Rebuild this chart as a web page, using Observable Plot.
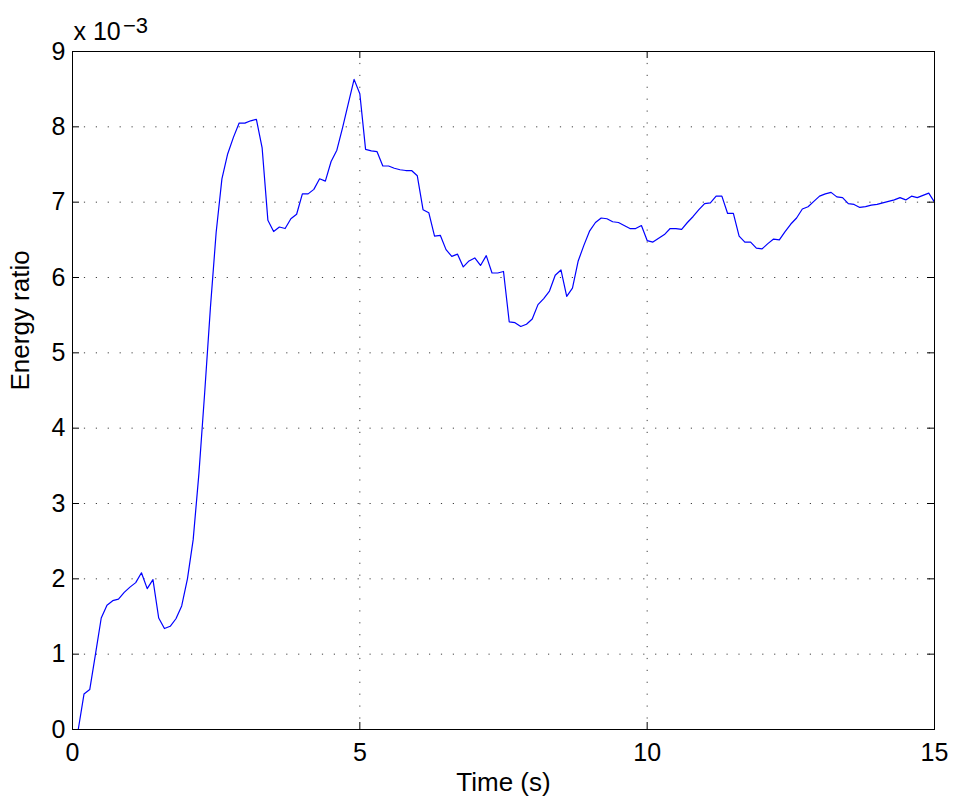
<!DOCTYPE html>
<html>
<head>
<meta charset="utf-8">
<script src="https://cdn.jsdelivr.net/npm/d3@7"></script>
<script src="https://cdn.jsdelivr.net/npm/@observablehq/plot@0.6"></script>
<style>
  body { margin: 0; background: #fff; }
  #chart svg { display: block; }
</style>
</head>
<body>
<div id="chart"></div>
<script>
// Energy ratio sampled every 0.1 s from 0 to 15 s, in units of 10^-3
const sampleInterval = 0.1;
const energyRatio = [
  0, 0, 0.47, 0.53, 1.0, 1.48, 1.65, 1.71, 1.73, 1.82,
  1.89, 1.95, 2.08, 1.87, 1.99, 1.48, 1.34, 1.37, 1.47, 1.64,
  2.0, 2.52, 3.4, 4.47, 5.6, 6.6, 7.31, 7.64, 7.86, 8.05,
  8.05, 8.08, 8.10, 7.72, 6.76, 6.61, 6.67, 6.65, 6.78, 6.84,
  7.11, 7.11, 7.17, 7.31, 7.28, 7.54, 7.69, 7.99, 8.31, 8.63,
  8.44, 7.70, 7.68, 7.67, 7.48, 7.48, 7.45, 7.43, 7.42, 7.42,
  7.35, 6.90, 6.86, 6.55, 6.56, 6.37, 6.28, 6.31, 6.14, 6.22,
  6.26, 6.16, 6.29, 6.06, 6.06, 6.08, 5.41, 5.40, 5.35, 5.38,
  5.45, 5.64, 5.72, 5.82, 6.03, 6.10, 5.75, 5.86, 6.22, 6.43,
  6.62, 6.73, 6.79, 6.78, 6.74, 6.73, 6.69, 6.65, 6.65, 6.69,
  6.49, 6.47, 6.52, 6.57, 6.65, 6.65, 6.64, 6.73, 6.81, 6.90,
  6.98, 6.99, 7.08, 7.08, 6.85, 6.85, 6.55, 6.47, 6.47, 6.39,
  6.38, 6.45, 6.51, 6.50, 6.61, 6.71, 6.79, 6.91, 6.94, 7.01,
  7.08, 7.11, 7.13, 7.07, 7.06, 6.98, 6.97, 6.93, 6.94, 6.96,
  6.97, 6.99, 7.01, 7.03, 7.06, 7.03, 7.08, 7.06, 7.09, 7.12,
  7.0
];

const xTicks = [0, 5, 10, 15];
const yTicks = [0, 1, 2, 3, 4, 5, 6, 7, 8, 9];
const xLabel = "Time (s)";
const yLabel = "Energy ratio";
const multiplierBase = "x 10";
const multiplierExponent = "\u22123";

const series = energyRatio.map((v, i) => ({ time: i * sampleInterval, ratio: v }));

// Frame geometry
const W = 954, H = 801;
const mL = 72, mR = 20, mT = 51, mB = 72;
const frameW = W - mL - mR, frameH = H - mT - mB;
const tickLen = 7;

const font = "'Liberation Sans', Arial, Helvetica, sans-serif";
const gridStyle = { stroke: "#000", strokeOpacity: 0.75, strokeWidth: 1, strokeDasharray: "1.2,10.7" };
const tickStyle = { stroke: "#000", strokeWidth: 1 };

const chart = Plot.plot({
  width: W,
  height: H,
  marginLeft: mL,
  marginRight: mR,
  marginTop: mT,
  marginBottom: mB,
  style: { fontFamily: font, fontSize: "25px", background: "#fff", color: "#000", overflow: "visible" },
  x: { domain: [0, 15] },
  y: { domain: [0, 9] },
  marks: [
    Plot.gridX(xTicks, gridStyle),
    Plot.gridY(yTicks, gridStyle),
    Plot.line(series, { x: "time", y: "ratio", stroke: "#0000ff", strokeWidth: 1.2 }),
    // inward tick marks on all four sides
    Plot.tickY(yTicks, { y: d => d, insetRight: frameW - tickLen, ...tickStyle }),
    Plot.tickY(yTicks, { y: d => d, insetLeft: frameW - tickLen, ...tickStyle }),
    Plot.tickX(xTicks, { x: d => d, insetTop: frameH - tickLen, ...tickStyle }),
    Plot.tickX(xTicks, { x: d => d, insetBottom: frameH - tickLen, ...tickStyle }),
    Plot.frame({ stroke: "#000", strokeWidth: 1 }),
    Plot.axisX(xTicks, { anchor: "bottom", tickSize: 0, tickPadding: 14, tickFormat: "d", label: null, fontSize: 25 }),
    Plot.axisY(yTicks, { anchor: "left", tickSize: 0, tickPadding: 7, tickFormat: "d", label: null, fontSize: 25 }),
    Plot.text([yLabel], { text: d => d, frameAnchor: "left", dx: -44, rotate: -90, lineAnchor: "bottom", fontSize: 26 }),
    Plot.text([xLabel], { text: d => d, frameAnchor: "bottom", dy: 61, lineAnchor: "bottom", fontSize: 26 }),
    Plot.text([multiplierBase], { text: d => d, frameAnchor: "top-left", dx: 1, dy: -12, lineAnchor: "bottom", textAnchor: "start", fontSize: 25 }),
    Plot.text([multiplierExponent], { text: d => d, frameAnchor: "top-left", dx: 50.5, dy: -19, lineAnchor: "bottom", textAnchor: "start", fontSize: 22 })
  ]
});

document.getElementById("chart").appendChild(chart);
</script>
</body>
</html>
